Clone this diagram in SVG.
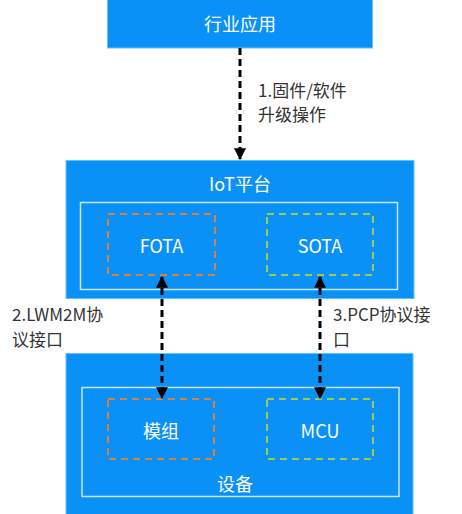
<svg xmlns="http://www.w3.org/2000/svg" width="462" height="514" viewBox="0 0 462 514">
<style>
.blk{fill:#0A91F8;stroke:#5FC3FA;stroke-width:1}
.inner{fill:none;stroke:#C8E6FF;stroke-width:1.5}
.or{fill:none;stroke:#D9823F;stroke-width:2;stroke-dasharray:7 5}
.gr{fill:none;stroke:#9CCB4E;stroke-width:2;stroke-dasharray:7 5}
.wt{fill:#FFFFFF;font-family:"Noto Sans CJK SC","Noto Sans",sans-serif;font-size:18px;text-anchor:middle;dominant-baseline:central}
.lb{fill:#333333;font-family:"Noto Sans CJK SC","Noto Sans",sans-serif;font-size:17px}
.ar{stroke:#000;stroke-width:3;stroke-dasharray:7 4;fill:none}
</style>
<defs>
<marker id="ah" viewBox="0 0 10 10" refX="9" refY="5" markerWidth="4" markerHeight="4" orient="auto-start-reverse" markerUnits="strokeWidth">
<path d="M0,0 L10,5 L0,10 Z" fill="#000"/>
</marker>
</defs>
<g id="app">
<rect class="blk" x="107.5" y="-1" width="265" height="49"/>
<text class="wt" x="240" y="23">行业应用</text>
</g>
<g id="iot">
<rect class="blk" x="66" y="160.5" width="348" height="138"/>
<text class="wt" x="240" y="183">IoT平台</text>
<rect class="inner" x="80.5" y="202.5" width="317" height="87"/>
</g>
<g id="fota">
<rect class="or" x="108" y="214" width="107" height="61"/>
<text class="wt" x="161.5" y="245">FOTA</text>
</g>
<g id="sota">
<rect class="gr" x="267" y="214" width="106" height="61"/>
<text class="wt" x="320" y="245">SOTA</text>
</g>
<g id="device">
<rect class="blk" x="66" y="353.5" width="347" height="162"/>
<rect class="inner" x="82" y="387.5" width="317" height="109"/>
<text class="wt" x="235" y="483">设备</text>
</g>
<g id="module">
<rect class="or" x="108" y="399" width="106" height="60"/>
<text class="wt" x="161" y="430">模组</text>
</g>
<g id="mcu">
<rect class="gr" x="267" y="399" width="106" height="60"/>
<text class="wt" x="320" y="430">MCU</text>
</g>
<g id="connectors">
<line class="ar" x1="240" y1="48" x2="240" y2="159" marker-end="url(#ah)"/>
<line class="ar" x1="162" y1="277" x2="162" y2="398" marker-start="url(#ah)" marker-end="url(#ah)"/>
<line class="ar" x1="320" y1="277" x2="320" y2="398" marker-start="url(#ah)" marker-end="url(#ah)"/>
</g>
<g id="labels">
<text class="lb" x="258" y="97">1.固件/软件</text>
<text class="lb" x="258" y="121">升级操作</text>
<text class="lb" x="12" y="321">2.LWM2M协</text>
<text class="lb" x="12" y="346">议接口</text>
<text class="lb" x="333" y="321">3.PCP协议接</text>
<text class="lb" x="333" y="346">口</text>
</g>
</svg>
